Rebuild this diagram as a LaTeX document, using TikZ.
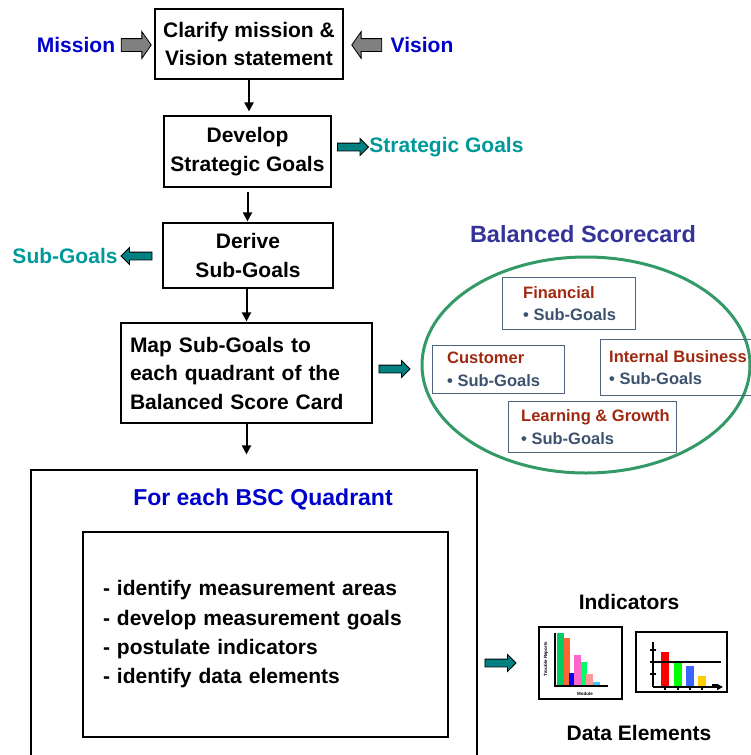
\documentclass[tikz,border=0pt]{standalone}
\usepackage{fontspec}
\setmainfont{Liberation Sans}
\usetikzlibrary{shapes.arrows,shapes.geometric,arrows.meta}
\definecolor{missionblue}{RGB}{0,0,204}
\definecolor{goalteal}{RGB}{0,153,153}
\definecolor{arrowteal}{RGB}{0,128,128}
\definecolor{bscblue}{RGB}{51,51,153}
\definecolor{quadred}{RGB}{160,40,16}
\definecolor{subslate}{RGB}{60,82,110}
\definecolor{quadframe}{RGB}{80,100,128}
\definecolor{bscgreen}{RGB}{51,153,102}
\tikzset{
  stepbox/.style={draw, line width=1.2pt, inner sep=0pt, font=\bfseries\fontsize{21}{28.5}\selectfont},
  flow/.style={-{Triangle[width=9pt,length=9pt]}, line width=2pt},
  greyarrow/.style={single arrow, draw, fill=gray, line width=0.8pt, minimum height=30pt,
    inner xsep=0pt, inner ysep=6pt, single arrow head extend=7pt, single arrow tip angle=110},
  tealarrow/.style={single arrow, draw, fill=arrowteal, line width=0.8pt, minimum height=31pt,
    inner xsep=0pt, inner ysep=3.5pt, single arrow head extend=4.5pt},
  biglabel/.style={inner sep=0pt, font=\bfseries\fontsize{21}{25}\selectfont},
  qbox/.style={draw=quadframe, line width=1pt, inner sep=0pt, anchor=north west},
  qtext/.style={align=left, inner sep=0pt, anchor=west, text=subslate,
    font=\bfseries\fontsize{16.5}{22.5}\selectfont},
  tinylabel/.style={inner sep=0pt, font=\bfseries\fontsize{4.5}{5}\selectfont},
}
\begin{document}
\begin{tikzpicture}[x=1pt,y=-1pt]
  \useasboundingbox (0,0) rectangle (751,755);
  \clip (0,0) rectangle (751,755);
  % flow of boxes
  \node[stepbox, align=center, minimum width=188pt, minimum height=70pt] (clarify) at (249,44)
    {Clarify mission \&\\Vision statement};
  \node[stepbox, align=center, minimum width=167pt, minimum height=71pt] (develop) at (247.5,151.5)
    {Develop\\Strategic Goals};
  \node[stepbox, align=center, minimum width=170pt, minimum height=65pt] (derive) at (248,255.5)
    {Derive\\Sub-Goals};
  \node[stepbox, align=left, inner xsep=9pt, text width=233pt, minimum height=100pt] (mapgoals) at (246.5,373)
    {Map Sub-Goals to\\each quadrant of the\\Balanced Score Card};
  \node[stepbox, minimum width=446pt, minimum height=300pt] (quad) at (254,620) {};
  \node[inner sep=0pt, text=missionblue, font=\bfseries\fontsize{23}{27}\selectfont] (quadtitle) at (263,499)
    {For each BSC Quadrant};
  \node[stepbox, align=left, inner xsep=20pt, text width=325pt, minimum height=205pt,
    font=\bfseries\fontsize{21}{29.3}\selectfont] (steps) at (265.5,634.5)
    {- identify measurement areas\\- develop measurement goals\\- postulate indicators\\- identify data elements};
  \begin{scope}[flow]
    \draw[shorten >=4pt] (clarify.south) -- (clarify.south |- develop.north);
    \draw[shorten <=4pt, shorten >=1pt] (develop.south) -- (develop.south |- derive.north);
    \draw[shorten >=1pt] (mapgoals.north |- derive.south) -- (mapgoals.north);
    \draw[shorten >=15pt] (mapgoals.south) -- (mapgoals.south |- quad.north);
  \end{scope}
  % inputs and outputs
  \node[biglabel, text=missionblue] (mission) at (76,45) {Mission};
  \node[greyarrow] (missionarrow) at (134,45) {};
  \node[greyarrow, shape border rotate=180] (visionarrow) at (369,45) {};
  \node[biglabel, text=missionblue] (vision) at (422,45) {Vision};
  \node[tealarrow] (strategicarrow) at (351,147) {};
  \node[biglabel, text=goalteal] (strategic) at (446.5,147) {Strategic Goals};
  \node[tealarrow, shape border rotate=180] (subgoalarrow) at (138.5,256) {};
  \node[biglabel, text=goalteal] (subgoals) at (65,256) {Sub-Goals};
  \node[tealarrow] (bscarrow) at (392.5,369) {};
  \node[tealarrow] (chartarrow) at (498.5,663) {};
  % balanced scorecard
  \node[inner sep=0pt, text=bscblue, font=\bfseries\fontsize{23.5}{27}\selectfont] (bsctitle) at (583,234)
    {Balanced Scorecard};
  \node[ellipse, draw=bscgreen, line width=3pt, minimum width=328pt, minimum height=216pt] (bsc) at (586,365) {};
  \node[qbox, minimum width=133pt, minimum height=52pt] (financial) at (502,277) {};
  \node[qtext] (financialtext) at ([xshift=21pt]financial.west) {\textcolor{quadred}{Financial}\\\textbullet~Sub-Goals};
  \node[qbox, minimum width=132pt, minimum height=48pt] (customer) at (432,345) {};
  \node[qtext] (customertext) at ([xshift=15pt]customer.west) {\textcolor{quadred}{Customer}\\\textbullet~Sub-Goals};
  \node[qbox, minimum width=152pt, minimum height=56pt] (internal) at (600,339) {};
  \node[qtext] (internaltext) at ([xshift=9pt]internal.west) {\textcolor{quadred}{Internal Business}\\\textbullet~Sub-Goals};
  \node[qbox, minimum width=168pt, minimum height=51pt] (learning) at (508,401) {};
  \node[qtext] (learningtext) at ([xshift=13pt]learning.west) {\textcolor{quadred}{Learning \& Growth}\\\textbullet~Sub-Goals};
  % indicator charts
  \node[biglabel] (indicators) at (629,602) {Indicators};
  \node[biglabel] (dataelements) at (639,733) {Data Elements};
  \node[draw, line width=1.2pt, minimum width=83pt, minimum height=72pt, inner sep=0pt] (trouble) at (580.5,663) {};
  \fill[fill={rgb,255:red,0;green,204;blue,102}] (557,686) rectangle (564,633);
  \fill[fill={rgb,255:red,255;green,102;blue,51}] (564,686) rectangle (570,638);
  \fill[fill={rgb,255:red,0;green,0;blue,255}] (569,686) rectangle (574,673);
  \fill[fill={rgb,255:red,255;green,102;blue,204}] (574,686) rectangle (581,655);
  \fill[fill={rgb,255:red,0;green,255;blue,102}] (581,686) rectangle (587,662);
  \fill[fill={rgb,255:red,255;green,153;blue,153}] (586,686) rectangle (593,674);
  \fill[fill={rgb,255:red,51;green,204;blue,255}] (593,686) rectangle (600,682);
  \draw[line width=1.2pt] (555,633) -- (555,686) -- (608,686);
  \node[tinylabel, rotate=90] (troublelabel) at (546,659) {Trouble Reports};
  \node[tinylabel] (modulelabel) at (585,694) {Module};
  \node[draw, line width=1.2pt, minimum width=91pt, minimum height=60pt, inner sep=0pt] (trend) at (681.5,662) {};
  \fill[red] (661,687) rectangle (669,652);
  \fill[green] (674,687) rectangle (682,663);
  \fill[fill={rgb,255:red,60;green,100;blue,255}] (686,687) rectangle (694,666);
  \fill[fill={rgb,255:red,255;green,204;blue,0}] (698,687) rectangle (706,676);
  \fill[black] (712,687) rectangle (717,684);
  \draw[line width=1.2pt] (653,662) -- (721,662);
  \draw[line width=2pt] (653,642) -- (653,687);
  \foreach \ty in {650,662,674}
    \draw[line width=1.2pt] (650,\ty) -- (656,\ty);
  \draw[line width=2.5pt, -{Triangle[width=6pt,length=6pt]}] (653,687) -- (723,687);
  \foreach \tx in {665,678,690,702}
    \draw[line width=1.2pt] (\tx,687) -- (\tx,690);
\end{tikzpicture}
\end{document}
